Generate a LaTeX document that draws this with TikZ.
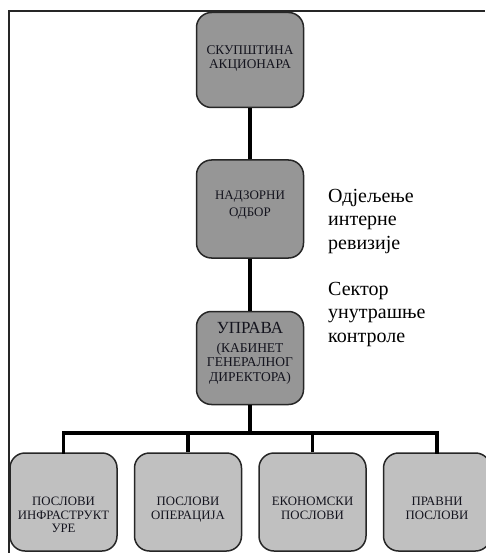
\documentclass[tikz,border=0pt]{standalone}
\usepackage{fontspec}
\setmainfont{Liberation Serif}
\begin{document}
\begin{tikzpicture}[x=1pt,y=-1pt,
  box/.style={draw=black!85, line width=1.5pt, rounded corners=15pt, minimum width=107pt, inner sep=0pt},
  boxtext/.style={anchor=north, align=center, inner sep=0pt, text=txt},
  conn/.style={line width=3.2pt, black},
  side/.style={anchor=north west, align=left, inner sep=0pt, font=\fontsize{20}{23.5}\selectfont}]
\useasboundingbox (0,0) rectangle (485,553);
\definecolor{topgray}{RGB}{150,150,150}
\definecolor{botgray}{RGB}{192,192,192}
\definecolor{txt}{RGB}{20,20,30}
% frame
\draw[line width=1.3pt, black!85] (9,553) -- (9,11) -- (485,11);
% top boxes
\node[box, fill=topgray, minimum height=95pt] (skup) at (250,60) {};
\node[box, fill=topgray, minimum height=98pt] (nadz) at (250,209) {};
\node[box, fill=topgray, minimum height=93pt] (upr) at (250,358) {};
\node[boxtext, font=\fontsize{13.3}{14}\selectfont] (skupt) at (250,45.5) {СКУПШТИНА\\АКЦИОНАРА};
\node[boxtext, font=\fontsize{13}{17}\selectfont] (nadzt) at (250,190.5) {НАДЗОРНИ\\ОДБОР};
\node[boxtext, font=\fontsize{13.5}{14.2}\selectfont] (uprt) at (250,322) {{\fontsize{17}{18}\selectfont УПРАВА}\\[5pt](КАБИНЕТ\\ГЕНЕРАЛНОГ\\ДИРЕКТОРА)};
% bottom boxes
\node[box, fill=botgray, minimum height=98pt] (b1) at (63.5,502) {};
\node[box, fill=botgray, minimum height=98pt] (b2) at (188,502) {};
\node[box, fill=botgray, minimum height=98pt] (b3) at (312.5,502) {};
\node[box, fill=botgray, minimum height=98pt] (b4) at (437,502) {};
\node[boxtext, font=\fontsize{12.8}{13.6}\selectfont] (b1t) at (63.5,497) {ПОСЛОВИ\\ИНФРАСТРУКТ\\УРЕ};
\node[boxtext, font=\fontsize{12.8}{13.6}\selectfont] (b2t) at (188,497) {ПОСЛОВИ\\ОПЕРАЦИЈА};
\node[boxtext, font=\fontsize{12.8}{13.6}\selectfont] (b3t) at (312.5,497) {ЕКОНОМСКИ\\ПОСЛОВИ};
\node[boxtext, font=\fontsize{12.8}{13.6}\selectfont] (b4t) at (437,497) {ПРАВНИ\\ПОСЛОВИ};
% side texts
\node[side] (odj) at (328,189) {Одјељење\\интерне\\ревизије};
\node[side] (sek) at (328,282) {Сектор\\унутрашње\\контроле};
% connectors
\coordinate (bus) at (250,433);
\draw[conn] (skup.south) -- (nadz.north);
\draw[conn] (nadz.south) -- (upr.north);
\draw[conn] (upr.south) -- (bus);
\draw[conn, line cap=rect] (b1.north) |- (bus) -| (b4.north);
\draw[conn] (b2.north) -- (b2.north |- bus);
\draw[conn] (b3.north) -- (b3.north |- bus);
\end{tikzpicture}
\end{document}
